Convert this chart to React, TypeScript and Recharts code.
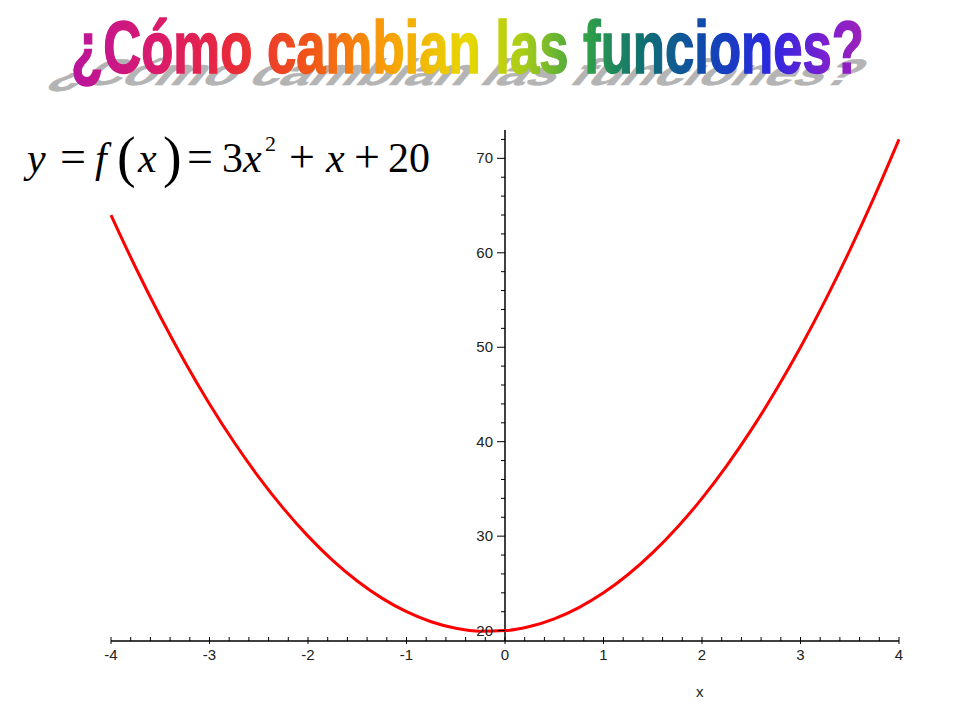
import { LineChart, Line, XAxis, YAxis, ReferenceLine } from "recharts";

// points
const xValues = [
  -4, -3.75, -3.5, -3.25, -3, -2.75, -2.5, -2.25, -2, -1.75, -1.5, -1.25, -1,
  -0.75, -0.5, -0.25, 0, 0.25, 0.5, 0.75, 1, 1.25, 1.5, 1.75, 2, 2.25, 2.5,
  2.75, 3, 3.25, 3.5, 3.75, 4,
];
const yValues = [
  64, 58.44, 53.25, 48.44, 44, 39.94, 36.25, 32.94, 30, 27.44, 25.25, 23.44,
  22, 20.94, 20.25, 19.94, 20, 20.44, 21.25, 22.44, 24, 25.94, 28.25, 30.94,
  34, 37.44, 41.25, 45.44, 50, 54.94, 60.25, 65.94, 72,
];

const xLabels = ["-4", "-3", "-2", "-1", "0", "1", "2", "3", "4"];
const yLabels = ["20", "30", "40", "50", "60", "70"];

const title = "¿Cómo cambian las funciones?";

const data = xValues.map((x, i) => ({ x, y: yValues[i] }));

// minor tick positions
const xTicks: number[] = [];
for (let i = -20; i <= 20; i++) xTicks.push(Math.round(i * 2) / 10);
const yTicks: number[] = [];
for (let v = 20; v <= 72; v += 2) yTicks.push(v);

const W = 960;
const H = 720;
const LEFT = 111;
const RIGHT = 899;
const TOP = 130;
const BOTTOM = 641;
const Y_AXIS_SHIFT = (RIGHT - LEFT) / 2; // y axis sits at x = 0

const tickFont = { fontFamily: "Liberation Sans, Arial, sans-serif", fontSize: 15, fill: "#222" };

const XTick = ({ x, y, payload }: any) => {
  const label = xLabels.find((l) => Number(l) === payload.value);
  return (
    <g>
      <line x1={x} x2={x} y1={y - 4} y2={label ? y + 3 : y} stroke="#000" strokeWidth={1} />
      {label && (
        <text x={x} y={y + 19} textAnchor="middle" {...tickFont}>
          {label}
        </text>
      )}
    </g>
  );
};

const YTick = ({ x, y, payload }: any) => {
  const label = yLabels.find((l) => Number(l) === payload.value);
  const ax = x + Y_AXIS_SHIFT;
  return (
    <g>
      <line x1={ax - (label ? 8 : 4)} x2={ax} y1={y} y2={y} stroke="#000" strokeWidth={1} />
      {label && (
        <text x={ax - 12} y={y + 5} textAnchor="end" {...tickFont}>
          {label}
        </text>
      )}
    </g>
  );
};

const Title = () => (
  <svg width={W} height={200} style={{ position: "absolute", left: 0, top: 0, pointerEvents: "none" }}>
    <defs>
      <linearGradient id="rainbow" x1="70" x2="865" y1="0" y2="0" gradientUnits="userSpaceOnUse">
        <stop offset="0" stopColor="#b8149e" />
        <stop offset="0.1" stopColor="#d81a70" />
        <stop offset="0.2" stopColor="#e8283c" />
        <stop offset="0.3" stopColor="#f05418" />
        <stop offset="0.4" stopColor="#f8a008" />
        <stop offset="0.5" stopColor="#e8d800" />
        <stop offset="0.57" stopColor="#a8cc18" />
        <stop offset="0.65" stopColor="#30a048" />
        <stop offset="0.72" stopColor="#107070" />
        <stop offset="0.8" stopColor="#1048b0" />
        <stop offset="0.88" stopColor="#2a28e0" />
        <stop offset="0.95" stopColor="#7a20d0" />
        <stop offset="1" stopColor="#a020b8" />
      </linearGradient>
    </defs>
    <g transform="translate(47,85) skewX(-40) scale(1,0.5)">
      <text
        x={0}
        y={0}
        textLength={805}
        lengthAdjust="spacingAndGlyphs"
        fontFamily="Liberation Sans, Arial, sans-serif"
        fontWeight="bold"
        fontSize={74}
        fill="#b4b4b4"
        stroke="#b4b4b4"
        strokeWidth={1}
      >
        {title}
      </text>
    </g>
    <text
      x={71}
      y={73}
      textLength={793}
      lengthAdjust="spacingAndGlyphs"
      fontFamily="Liberation Sans, Arial, sans-serif"
      fontWeight="bold"
      fontSize={74}
      fill="url(#rainbow)"
      stroke="url(#rainbow)"
      strokeWidth={1.5}
    >
      {title}
    </text>
    <text y={172} fontFamily="Liberation Serif, Times New Roman, serif" fontSize={42} fill="#000">
      <tspan x={27} fontStyle="italic">y</tspan>
      <tspan x={60} fontSize={46}>=</tspan>
      <tspan x={95} fontStyle="italic">f</tspan>
      <tspan x={117} fontSize={56} dy={4}>(</tspan>
      <tspan x={138} fontStyle="italic" dy={-4}>x</tspan>
      <tspan x={163} fontSize={56} dy={4}>)</tspan>
      <tspan x={187} fontSize={46} dy={-4}>=</tspan>
      <tspan x={222}>3</tspan>
      <tspan x={243} fontStyle="italic">x</tspan>
      <tspan x={265} fontSize={22} dy={-21}>2</tspan>
      <tspan x={289} fontSize={46} dy={21}>+</tspan>
      <tspan x={326} fontStyle="italic">x</tspan>
      <tspan x={354} fontSize={46}>+</tspan>
      <tspan x={388}>20</tspan>
    </text>
  </svg>
);

const App = () => {
  return (
    <div style={{ position: "absolute", left: 0, top: 0, width: W, height: H, background: "#fff" }}>
      <LineChart
        width={W}
        height={H}
        data={data}
        margin={{ top: TOP, right: W - RIGHT, bottom: H - BOTTOM - 30, left: LEFT - 1 }}
      >
        <XAxis
          dataKey="x"
          type="number"
          domain={[-4, 4]}
          ticks={xTicks}
          interval={0}
          height={30}
          tickSize={0}
          tickMargin={0}
          tickLine={false}
          axisLine={{ stroke: "#000", strokeWidth: 1.5 }}
          tick={<XTick />}
        />
        <YAxis
          type="number"
          domain={[18.9, 73]}
          allowDataOverflow
          ticks={yTicks}
          interval={0}
          width={1}
          tickSize={0}
          tickMargin={0}
          tickLine={false}
          axisLine={false}
          tick={<YTick />}
        />
        <ReferenceLine x={0} stroke="#000" strokeWidth={1.5} ifOverflow="extendDomain" />
        <Line
          type="monotone"
          dataKey="y"
          stroke="#ff0000"
          strokeWidth={3}
          dot={false}
          isAnimationActive={false}
        />
      </LineChart>
      <div
        style={{
          position: "absolute",
          left: 696,
          top: 683,
          fontFamily: "Liberation Sans, Arial, sans-serif",
          fontSize: 15,
          color: "#222",
        }}
      >
        x
      </div>
      <Title />
    </div>
  );
};

export default App;
